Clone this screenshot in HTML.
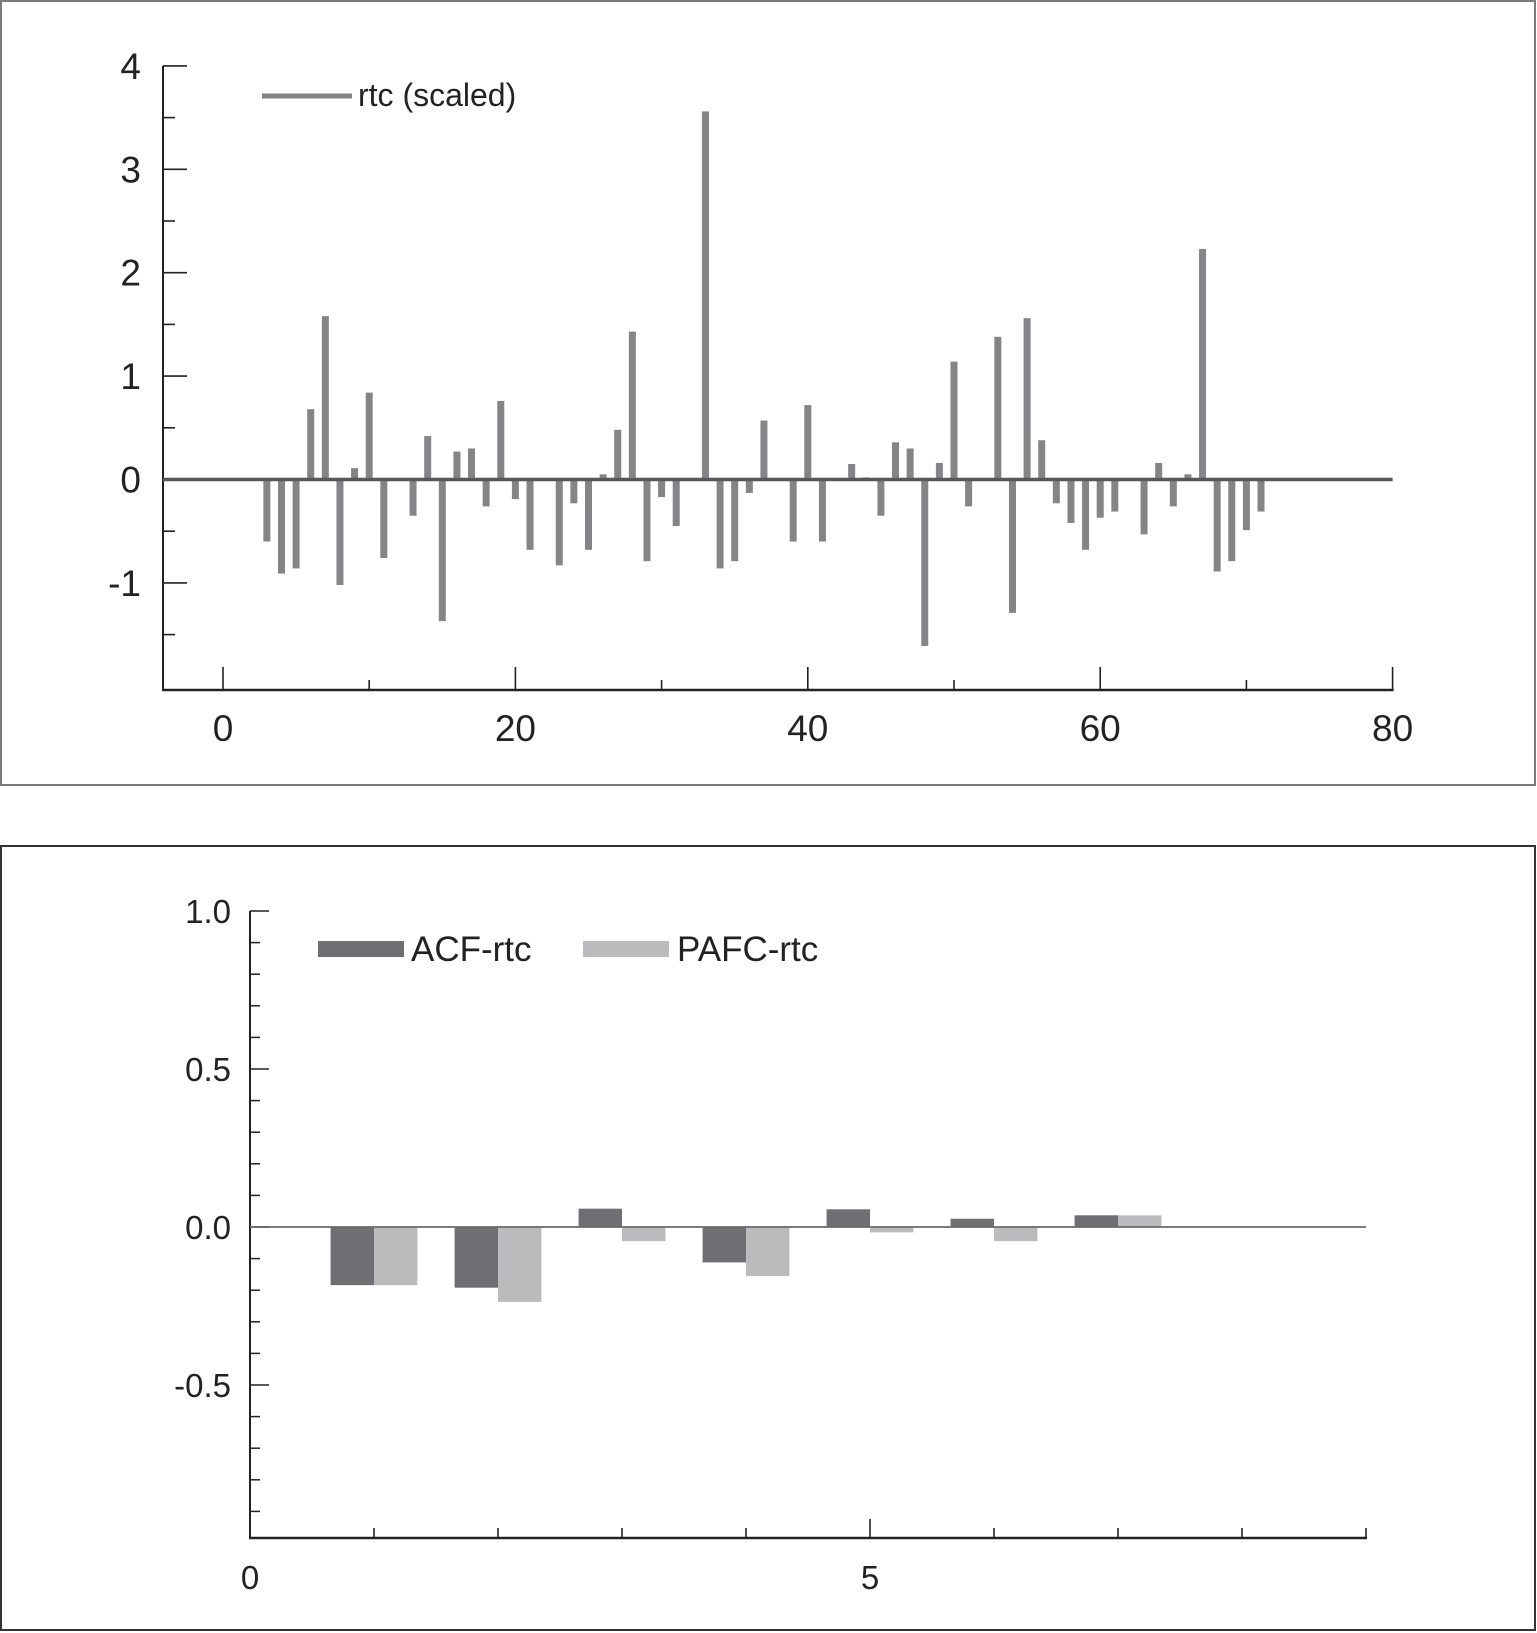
<!DOCTYPE html>
<html><head><meta charset="utf-8">
<style>
html,body{margin:0;padding:0;background:#fff;}
svg{display:block;font-family:"Liberation Sans",sans-serif;}
</style></head>
<body>
<svg id="root" width="1537" height="1633" viewBox="0 0 1537 1633" xmlns="http://www.w3.org/2000/svg">
  <rect x="1" y="1" width="1534" height="784" fill="none" stroke="#7a7a7a" stroke-width="2"/>
  <rect x="1" y="846" width="1534" height="784" fill="none" stroke="#333" stroke-width="2"/>
  <g id="top"></g>
  <g id="bot"></g>
</svg>
<script>
const rtcLags = [3,4,5,6,7,8,9,10,11,13,14,15,16,17,18,19,20,21,23,24,25,26,27,28,29,30,31,33,34,35,36,37,39,40,41,43,44,45,46,47,48,49,50,51,53,54,55,56,57,58,59,60,61,63,64,65,66,67,68,69,70,71];
const rtcValues = [-0.60,-0.91,-0.86,0.68,1.58,-1.02,0.11,0.84,-0.76,-0.35,0.42,-1.37,0.27,0.30,-0.26,0.76,-0.19,-0.68,-0.83,-0.23,-0.68,0.05,0.48,1.43,-0.79,-0.17,-0.45,3.56,-0.86,-0.79,-0.13,0.57,-0.60,0.72,-0.60,0.15,0.02,-0.35,0.36,0.30,-1.61,0.16,1.14,-0.26,1.38,-1.29,1.56,0.38,-0.23,-0.42,-0.68,-0.37,-0.31,-0.53,0.16,-0.26,0.05,2.23,-0.89,-0.79,-0.49,-0.31];
const topYTicks = [-1,0,1,2,3,4];
const topXTicks = [0,20,40,60,80];

const acfLags = [1,2,3,4,5,6,7];
const acfValues = [-0.184,-0.192,0.058,-0.112,0.056,0.026,0.037];
const pacfValues = [-0.184,-0.237,-0.045,-0.155,-0.017,-0.045,0.037];
const botYTicks = [1.0,0.5,0.0,-0.5];
const botYLabels = ["1.0","0.5","0.0","-0.5"];
const botXLabels = [0,5];

const NS="http://www.w3.org/2000/svg";
function mk(parent,tag,attrs,text){const e=document.createElementNS(NS,tag);for(const k in attrs)e.setAttribute(k,attrs[k]);if(text!==undefined)e.textContent=text;parent.appendChild(e);return e;}

// ---------- top chart ----------
const T=document.getElementById('top');
const tx=v=>223+v*14.62;
const ty=v=>479.5-v*103.4;
const axisCol="#222";
let e;
e=mk(T,'line',{x1:163,y1:ty(4),x2:163,y2:690,stroke:axisCol,'stroke-width':2});


e=mk(T,'line',{x1:162,y1:690,x2:tx(80)+1,y2:690,stroke:axisCol,'stroke-width':2.5});


for(let v=-1.5;v<=4.01;v+=0.5){
  const major=Math.abs(v-Math.round(v))<1e-6;
  e=mk(T,'line',{x1:163,y1:ty(v),x2:163+(major?24:12),y2:ty(v),stroke:axisCol,'stroke-width':1.6});
  
  
}
topYTicks.forEach(v=>{
  e=mk(T,'text',{x:141,y:ty(v)+13,'text-anchor':'end','font-size':37,fill:'#222'},String(v));
  
  
});
for(let v=0;v<=80;v+=10){
  const major=v%20===0;
  e=mk(T,'line',{x1:tx(v),y1:690,x2:tx(v),y2:690-(major?23:10),stroke:axisCol,'stroke-width':1.6});
  
  
}
topXTicks.forEach(v=>{
  e=mk(T,'text',{x:tx(v),y:741,'text-anchor':'middle','font-size':37,fill:'#222'},String(v));
  
  
});
rtcLags.forEach((lag,i)=>{
  const v=rtcValues[i];const y0=ty(0),y1=ty(v);
  e=mk(T,'rect',{x:tx(lag)-3.5,y:Math.min(y0,y1),width:7,height:Math.abs(y1-y0),fill:'#858588'});
  
  
});
e=mk(T,'line',{x1:163,y1:ty(0),x2:tx(80),y2:ty(0),stroke:'#58585a','stroke-width':3.5});


e=mk(T,'line',{x1:262,y1:96,x2:352,y2:96,stroke:'#858588','stroke-width':5});


e=mk(T,'text',{x:358,y:106,'font-size':32,fill:'#222'},'rtc (scaled)');



// ---------- bottom chart ----------
const B=document.getElementById('bot');
const bx=v=>250+v*124;
const by=v=>1227-v*316;
e=mk(B,'line',{x1:250,y1:by(1.0),x2:250,y2:1538,stroke:axisCol,'stroke-width':2});


e=mk(B,'line',{x1:249,y1:1538,x2:bx(9)+1,y2:1538,stroke:axisCol,'stroke-width':2.5});


for(let k=10;k>=-9;k--){
  const v=k/10;const major=k%5===0;
  e=mk(B,'line',{x1:250,y1:by(v),x2:250+(major?19:10),y2:by(v),stroke:axisCol,'stroke-width':1.5});
  
  
}
botYTicks.forEach((v,i)=>{
  e=mk(B,'text',{x:231,y:by(v)+12,'text-anchor':'end','font-size':33,fill:'#222'},botYLabels[i]);
  
  
});
for(let v=1;v<=9;v++){
  e=mk(B,'line',{x1:bx(v),y1:1538,x2:bx(v),y2:1538-(v===5?19:10),stroke:axisCol,'stroke-width':1.6});
  
  
}
botXLabels.forEach(v=>{
  e=mk(B,'text',{x:bx(v),y:1589,'text-anchor':'middle','font-size':33,fill:'#222'},String(v));
  
  
});
const bw=0.35;
acfLags.forEach((lag,i)=>{
  const a=acfValues[i],p=pacfValues[i],y0=by(0);
  e=mk(B,'rect',{x:bx(lag-bw),y:Math.min(y0,by(a)),width:bw*124,height:Math.abs(by(a)-y0),fill:'#6e6e73'});
  
  
  e=mk(B,'rect',{x:bx(lag),y:Math.min(y0,by(p)),width:bw*124,height:Math.abs(by(p)-y0),fill:'#bbbbbe'});
  
  
});
e=mk(B,'line',{x1:250,y1:by(0),x2:bx(9),y2:by(0),stroke:'#6a6a6a','stroke-width':1.8});


e=mk(B,'rect',{x:318,y:941,width:86,height:16,fill:'#6e6e73'});


e=mk(B,'text',{x:411,y:961,'font-size':35,fill:'#222'},'ACF-rtc');


e=mk(B,'rect',{x:583,y:941,width:86,height:16,fill:'#bbbbbe'});


e=mk(B,'text',{x:677,y:961,'font-size':35,fill:'#222'},'PAFC-rtc');


</script>
</body></html>
